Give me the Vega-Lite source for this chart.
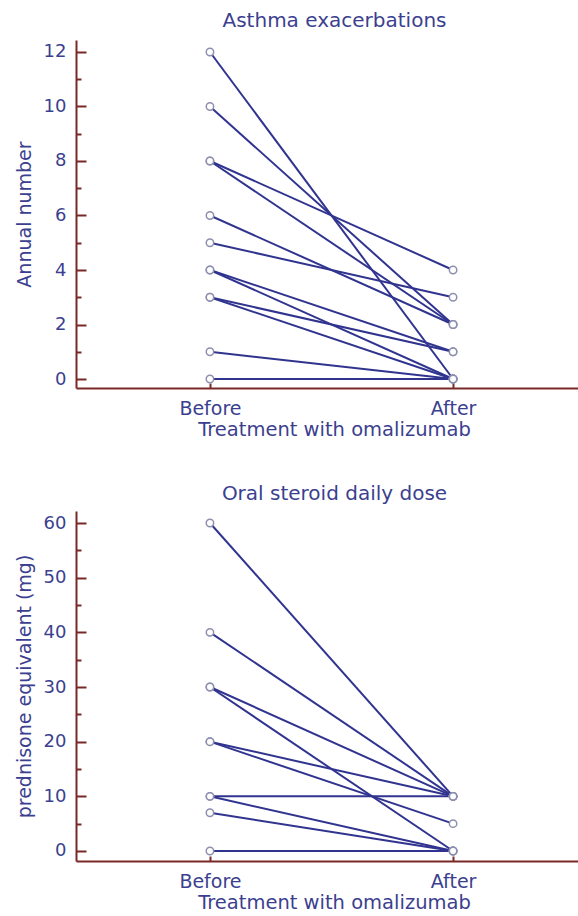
{
  "$schema": "https://vega.github.io/schema/vega-lite/v6.json",
  "background": "white",
  "padding": {"left": 15, "top": 11, "right": 0, "bottom": 0},
  "spacing": 45,
  "datasets": {
    "asthma": [
      {"id": 1, "t": 0, "v": 12}, {"id": 1, "t": 1, "v": 0},
      {"id": 2, "t": 0, "v": 10}, {"id": 2, "t": 1, "v": 2},
      {"id": 3, "t": 0, "v": 8}, {"id": 3, "t": 1, "v": 4},
      {"id": 4, "t": 0, "v": 8}, {"id": 4, "t": 1, "v": 2},
      {"id": 5, "t": 0, "v": 6}, {"id": 5, "t": 1, "v": 2},
      {"id": 6, "t": 0, "v": 5}, {"id": 6, "t": 1, "v": 3},
      {"id": 7, "t": 0, "v": 4}, {"id": 7, "t": 1, "v": 1},
      {"id": 8, "t": 0, "v": 4}, {"id": 8, "t": 1, "v": 0},
      {"id": 9, "t": 0, "v": 3}, {"id": 9, "t": 1, "v": 1},
      {"id": 10, "t": 0, "v": 3}, {"id": 10, "t": 1, "v": 0},
      {"id": 11, "t": 0, "v": 1}, {"id": 11, "t": 1, "v": 0},
      {"id": 12, "t": 0, "v": 0}, {"id": 12, "t": 1, "v": 0}
    ],
    "steroid": [
      {"id": 1, "t": 0, "v": 60}, {"id": 1, "t": 1, "v": 10},
      {"id": 2, "t": 0, "v": 40}, {"id": 2, "t": 1, "v": 10},
      {"id": 3, "t": 0, "v": 30}, {"id": 3, "t": 1, "v": 10},
      {"id": 4, "t": 0, "v": 30}, {"id": 4, "t": 1, "v": 0},
      {"id": 5, "t": 0, "v": 20}, {"id": 5, "t": 1, "v": 10},
      {"id": 6, "t": 0, "v": 20}, {"id": 6, "t": 1, "v": 5},
      {"id": 7, "t": 0, "v": 10}, {"id": 7, "t": 1, "v": 10},
      {"id": 8, "t": 0, "v": 10}, {"id": 8, "t": 1, "v": 0},
      {"id": 9, "t": 0, "v": 7}, {"id": 9, "t": 1, "v": 0},
      {"id": 10, "t": 0, "v": 0}, {"id": 10, "t": 1, "v": 0}
    ]
  },
  "config": {
    "view": {"stroke": null},
    "font": "DejaVu Sans",
    "axis": {
      "domainColor": "#7a2828",
      "domainWidth": 2,
      "tickColor": "#7a2828",
      "tickWidth": 2,
      "labelColor": "#3c3f8f",
      "titleColor": "#3c3f8f",
      "labelFont": "DejaVu Sans",
      "titleFont": "DejaVu Sans",
      "labelFontSize": 18,
      "titleFontSize": 19,
      "titleFontWeight": "normal",
      "grid": false,
      "labelOverlap": false,
      "labelFlush": false
    },
    "title": {"color": "#3c3f8f", "font": "DejaVu Sans", "fontSize": 20, "fontWeight": "normal"}
  },
  "vconcat": [
    {
      "title": {"text": "Asthma exacerbations", "dx": 7, "offset": 9},
      "width": 503,
      "height": 348,
      "data": {"name": "asthma"},
      "encoding": {
        "x": {
          "field": "t", "type": "quantitative",
          "scale": {"domain": [-0.551, 1.518], "nice": false, "zero": false},
          "axis": {
            "values": [0, 1],
            "labelExpr": "datum.value == 0 ? 'Before' : 'After'",
            "labelFontSize": 19,
            "tickSize": -5,
            "labelPadding": 16,
            "title": "Treatment with omalizumab",
            "titleFontSize": 19.5,
            "titleX": 258,
            "titlePadding": 2
          }
        },
        "y": {
          "field": "v", "type": "quantitative",
          "scale": {"domain": [-0.33, 12.44], "nice": false, "zero": false},
          "axis": {
            "values": [0, 1, 2, 3, 4, 5, 6, 7, 8, 9, 10, 11, 12],
            "labelExpr": "datum.value % 2 == 0 ? datum.label : ''",
            "tickSize": {"condition": {"test": "datum.value % 2 == 0", "value": -10}, "value": -5},
            "labelPadding": 20,
            "title": "Annual number",
            "titlePadding": 9
          }
        }
      },
      "layer": [
        {"mark": {"type": "line", "color": "#30348f", "strokeWidth": 2}, "encoding": {"detail": {"field": "id"}}},
        {"mark": {"type": "circle", "fill": "white", "stroke": "#8d8fae", "strokeWidth": 1.5, "size": 55, "opacity": 1}}
      ]
    },
    {
      "title": {"text": "Oral steroid daily dose", "dx": 7, "offset": 7},
      "width": 503,
      "height": 350,
      "data": {"name": "steroid"},
      "encoding": {
        "x": {
          "field": "t", "type": "quantitative",
          "scale": {"domain": [-0.551, 1.518], "nice": false, "zero": false},
          "axis": {
            "values": [0, 1],
            "labelExpr": "datum.value == 0 ? 'Before' : 'After'",
            "labelFontSize": 19,
            "tickSize": -5,
            "labelPadding": 16,
            "title": "Treatment with omalizumab",
            "titleFontSize": 19.5,
            "titleX": 258,
            "titlePadding": 2
          }
        },
        "y": {
          "field": "v", "type": "quantitative",
          "scale": {"domain": [-1.83, 62.2], "nice": false, "zero": false},
          "axis": {
            "values": [0, 5, 10, 15, 20, 25, 30, 35, 40, 45, 50, 55, 60],
            "labelExpr": "datum.value % 10 == 0 ? datum.label : ''",
            "tickSize": {"condition": {"test": "datum.value % 10 == 0", "value": -10}, "value": -5},
            "labelPadding": 20,
            "title": "prednisone equivalent (mg)",
            "titlePadding": 9
          }
        }
      },
      "layer": [
        {"mark": {"type": "line", "color": "#30348f", "strokeWidth": 2}, "encoding": {"detail": {"field": "id"}}},
        {"mark": {"type": "circle", "fill": "white", "stroke": "#8d8fae", "strokeWidth": 1.5, "size": 55, "opacity": 1}}
      ]
    }
  ]
}
